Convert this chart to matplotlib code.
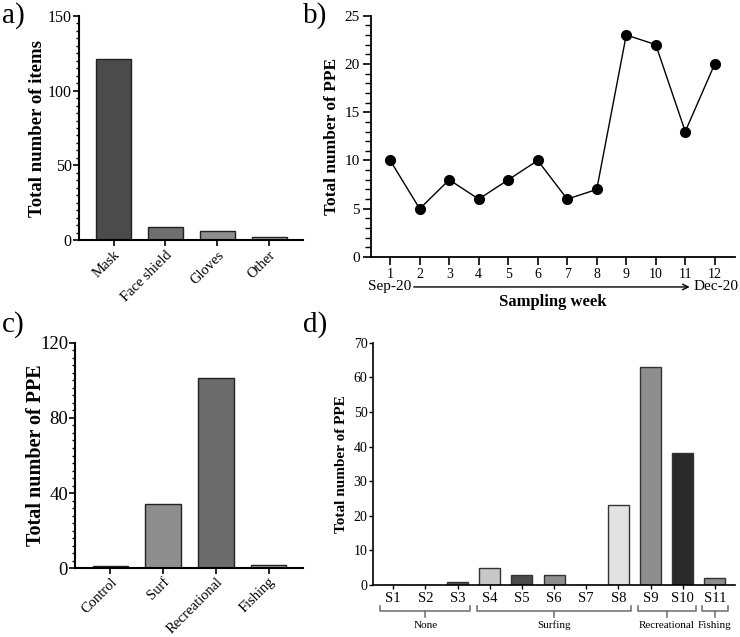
import matplotlib
matplotlib.use('Agg')
import matplotlib.pyplot as plt
from matplotlib.ticker import MultipleLocator
import matplotlib.transforms as mtransforms

plt.rcParams['font.family'] = 'serif'
plt.rcParams['font.serif'] = ['Liberation Serif', 'Times New Roman', 'DejaVu Serif']

# a) items by type
item_types = ["Mask", "Face shield", "Gloves", "Other"]
item_counts = [121, 9, 6, 2]
item_colors = ["#4b4b4b", "#6f6f6f", "#8e8e8e", "#a2a2a2"]

# b) PPE per sampling week
weeks = [1, 2, 3, 4, 5, 6, 7, 8, 9, 10, 11, 12]
week_counts = [10, 5, 8, 6, 8, 10, 6, 7, 23, 22, 13, 20]

# c) PPE by beach use
uses = ["Control", "Surf", "Recreational", "Fishing"]
use_counts = [1, 34, 101, 2]
use_colors = ["#3c3c3c", "#8e8e8e", "#6c6c6c", "#a8a8a8"]

# d) PPE by site
sites = ["S1", "S2", "S3", "S4", "S5", "S6", "S7", "S8", "S9", "S10", "S11"]
site_counts = [0, 0, 1, 5, 3, 3, 0, 23, 63, 38, 2]
site_colors = ["#8e8e8e", "#8e8e8e", "#555555", "#c8c8c8", "#4a4a4a", "#8e8e8e",
               "#8e8e8e", "#e2e2e2", "#8e8e8e", "#2a2a2a", "#8e8e8e"]
site_groups = [("None", 0, 2), ("Surfing", 3, 7), ("Recreational", 8, 9), ("Fishing", 10, 10)]

fig = plt.figure(figsize=(7.4, 6.37), dpi=100)


def style_axes(ax, lw=1.5):
    for s in ["top", "right"]:
        ax.spines[s].set_visible(False)
    ax.spines["left"].set_linewidth(lw)
    ax.spines["bottom"].set_linewidth(lw)


# ---- a)
ax1 = fig.add_axes([0.1064, 0.6232, 0.303, 0.3517])
ax1.bar(range(len(item_types)), item_counts, width=0.67, color=item_colors,
        edgecolor="#222222", linewidth=1)
ax1.set_xlim(-0.67, 3.65)
ax1.set_ylim(0, 150)
ax1.yaxis.set_major_locator(MultipleLocator(50))
ax1.yaxis.set_minor_locator(MultipleLocator(5))
ax1.set_xticks(range(len(item_types)))
ax1.set_xticklabels(item_types, rotation=45, ha="right", rotation_mode="anchor", fontsize=10.5)
ax1.tick_params(axis="y", labelsize=11.5, length=4, width=1.2, pad=1)
ax1.tick_params(axis="y", which="minor", length=2, width=1)
ax1.tick_params(axis="x", length=4, width=1.2, pad=2)
ax1.set_ylabel("Total number of items", fontsize=13.5, fontweight="bold", labelpad=1)
style_axes(ax1)

# ---- b)
ax2 = fig.add_axes([0.501, 0.5965, 0.492, 0.3789])
ax2.plot(weeks, week_counts, "-o", color="black", linewidth=1, markersize=7)
ax2.set_xlim(0.34, 12.68)
ax2.set_ylim(0, 25)
ax2.set_xticks(weeks)
ax2.yaxis.set_major_locator(MultipleLocator(5))
ax2.yaxis.set_minor_locator(MultipleLocator(1))
ax2.tick_params(axis="both", labelsize=11, length=6, width=1.2, pad=2)
ax2.tick_params(axis="x", labelsize=10)
ax2.tick_params(axis="y", which="minor", length=4, width=1)
ax2.set_ylabel("Total number of PPE", fontsize=12.5, fontweight="bold", labelpad=3)
trans2 = mtransforms.blended_transform_factory(ax2.transData, ax2.transAxes)
ax2.text(1.71, -0.124, "Sep-20", transform=trans2, ha="right", va="center", fontsize=11)
ax2.text(11.27, -0.124, "Dec-20", transform=trans2, ha="left", va="center", fontsize=11)
ax2.annotate("", xy=(11.15, -0.124), xytext=(1.8, -0.124), xycoords=trans2,
             textcoords=trans2,
             arrowprops=dict(arrowstyle="->", color="black", lw=1, shrinkA=0, shrinkB=0))
ax2.text(0.5, -0.187, "Sampling week", transform=ax2.transAxes, ha="center", va="center",
         fontsize=12, fontweight="bold")
style_axes(ax2, 1.3)

# ---- c)
ax3 = fig.add_axes([0.1014, 0.1078, 0.308, 0.3542])
ax3.bar(range(len(uses)), use_counts, width=0.67, color=use_colors,
        edgecolor="#222222", linewidth=1)
ax3.set_xlim(-0.67, 3.65)
ax3.set_ylim(0, 120)
ax3.yaxis.set_major_locator(MultipleLocator(40))
ax3.yaxis.set_minor_locator(MultipleLocator(4))
ax3.set_xticks(range(len(uses)))
ax3.set_xticklabels(uses, rotation=45, ha="right", rotation_mode="anchor", fontsize=10.5)
ax3.tick_params(axis="y", labelsize=13.5, length=4, width=1.2, pad=1)
ax3.tick_params(axis="y", which="minor", length=2, width=1)
ax3.tick_params(axis="x", length=4, width=1.2, pad=1)
ax3.set_ylabel("Total number of PPE", fontsize=14.5, fontweight="bold", labelpad=-4)
style_axes(ax3)

# ---- d)
ax4 = fig.add_axes([0.504, 0.0816, 0.489, 0.3804])
ax4.bar(range(len(sites)), site_counts, width=0.65, color=site_colors,
        edgecolor="#333333", linewidth=1)
ax4.set_xlim(-0.63, 10.62)
ax4.set_ylim(0, 70)
ax4.yaxis.set_major_locator(MultipleLocator(10))
ax4.set_xticks(range(len(sites)))
ax4.set_xticklabels(sites, fontsize=10.5)
ax4.tick_params(axis="y", labelsize=10, length=3, width=1, pad=1)
ax4.tick_params(axis="x", length=3, width=1, pad=2)
ax4.set_ylabel("Total number of PPE", fontsize=11, fontweight="bold")
style_axes(ax4, 1.2)
trans4 = mtransforms.blended_transform_factory(ax4.transData, ax4.transAxes)
for name, i0, i1 in site_groups:
    x0, x1 = i0 - 0.4, i1 + 0.4
    xm = (i0 + i1) / 2
    ax4.plot([x0, x0, x1, x1], [-0.088, -0.107, -0.107, -0.088], color="#777777",
             lw=1.2, transform=trans4, clip_on=False)
    ax4.plot([xm, xm], [-0.107, -0.13], color="#777777", lw=1.2,
             transform=trans4, clip_on=False)
    ax4.text(xm, -0.167, name, transform=trans4, ha="center", va="center", fontsize=8)

# panel letters
for lab, x, y in [("a)", 0.003, 0.975), ("b)", 0.41, 0.975), ("c)", 0.003, 0.49), ("d)", 0.41, 0.49)]:
    fig.text(x, y, lab, fontsize=21, ha="left", va="center")

fig.savefig("out.png", dpi=100)
